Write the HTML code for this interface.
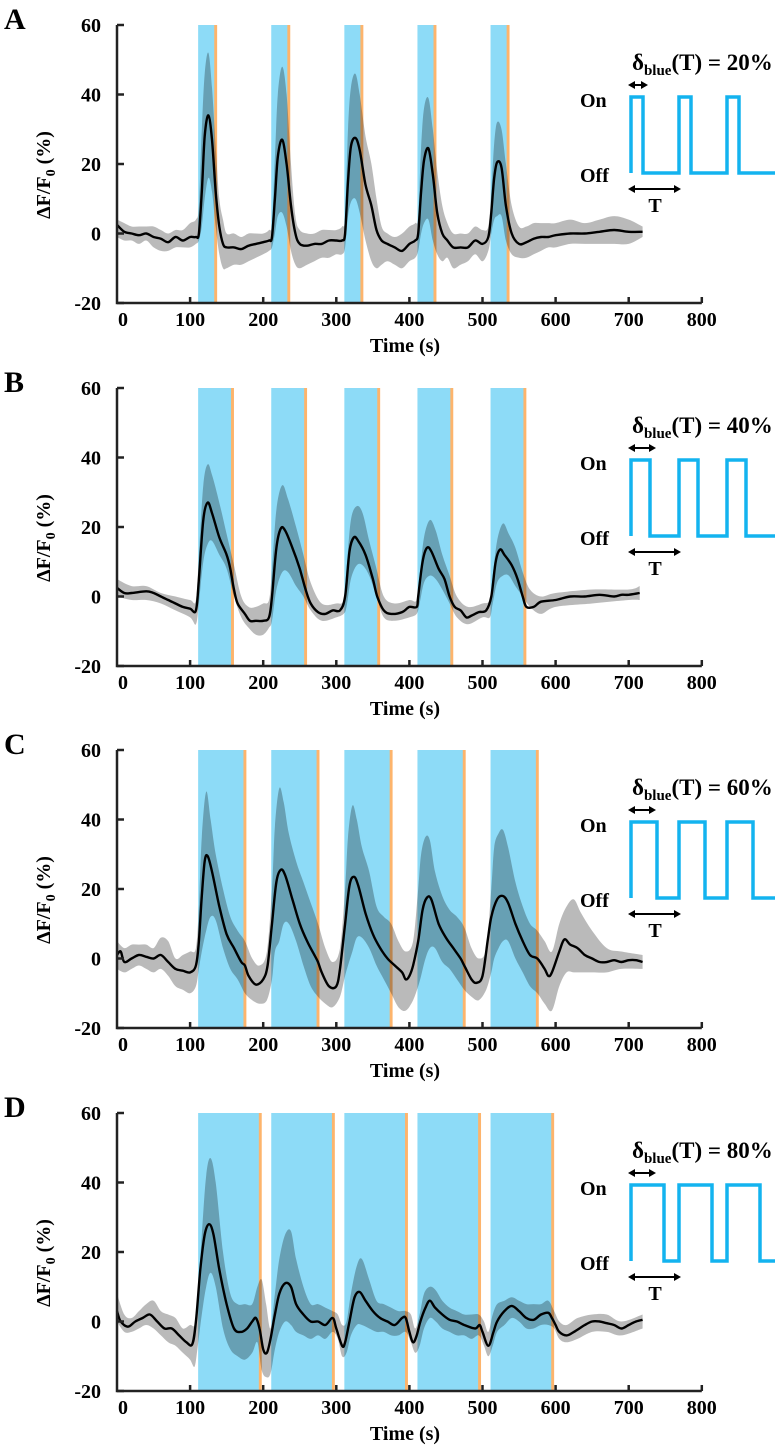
<!DOCTYPE html>
<html><head><meta charset="utf-8"><style>
html,body{margin:0;padding:0;background:#fff;}
svg{display:block;font-family:"Liberation Serif",serif;font-weight:bold;}
</style></head><body>
<svg id="fig" width="784" height="1448" viewBox="0 0 784 1448"></svg>
<script>
// ---------- Panel A data ----------
const tA=[0,10,20,30,40,50,60,70,80,90,100,108,112,116,120,125,130,135,140,145,150,160,170,180,190,200,208,212,216,220,226,232,238,244,250,260,270,280,290,300,308,312,316,320,326,332,340,348,355,362,370,380,390,400,408,412,416,420,426,432,438,445,452,460,470,480,490,500,508,512,516,520,526,532,540,550,560,570,580,590,600,620,640,660,680,700,719];
const meanA=[2.5,0.5,0,-0.5,0,-1,-1.5,-2.5,-1,-2,-1,-1,0,12,28,34,27,12,2,-3,-4,-4,-4.5,-3.5,-3,-2.5,-2,-1,10,22,27,20,8,0,-3,-3.5,-3,-3,-2,-2,-2,0,15,25,27.5,24,14,8,1,-2,-3,-4,-5,-3,-2,0,12,21,24.5,17,6,0,-2,-4,-4,-4,-2,-3,-1,6,16,20.5,19,8,0,-3,-2.5,-1.5,-1,-1,-0.5,0,0,0.5,1,0.5,0.5];
const bandTA=tA;
const upperA=[4,3,2,2,2,2,1,0,1,1,3,4,8,30,46,52,42,25,10,4,0,0,-1,0,0,0,1,3,22,40,48,40,20,5,1,0,0,1,1,1,2,5,30,42,46,40,28,20,10,2,0,-1,0,2,3,5,25,36,39,30,18,8,3,0,0,0,2,1,2,12,26,32,30,20,8,2,2,3,3,3,3,4,3,4,5,4,2];
const lowerA=[-1,-2,-2,-3,-2,-4,-5,-5,-4,-4,-4,-3,-2,2,10,16,12,2,-6,-10,-10,-9,-9,-8,-7,-6,-5,-4,0,5,6,2,-5,-9,-10,-9,-8,-7,-7,-6,-6,-4,5,9,10,6,-2,-8,-10,-9,-8,-9,-10,-8,-7,-5,0,3,4,-2,-6,-8,-7,-10,-9,-8,-6,-8,-5,0,4,5,5,-2,-6,-7,-7,-6,-5,-4,-4,-3,-3,-3,-3,-3,-1];
// ---------- Panel B data ----------
const tB=[0,10,20,40,50,60,70,80,90,100,108,112,118,124,130,140,150,155,160,165,175,182,190,200,208,212,218,224,230,240,250,258,265,275,285,295,305,312,318,324,330,340,350,356,365,375,390,400,410,412,418,424,430,440,448,455,462,470,478,485,495,505,512,518,524,530,540,548,555,560,570,580,600,620,640,660,680,690,700,715];
const meanB=[2.5,1,1,1.5,1,0,-1,-2,-3,-3.5,-4,5,22,27,24,17,12,8,2,-2,-5,-7,-7,-7,-6,0,14,19.5,19,14,8,2,-2,-4.5,-5,-4,-4,0,13,17,16,12,5,0,-4,-5,-4.5,-3,-3,0,10,14,13,8,5,0,-3,-4,-6,-5.5,-4.5,-4,0,10,13.5,12,9,5,0,-3,-3,-1.5,-1,0,0,0.5,0,0.5,0.5,1];
const bandTB=[0,20,40,60,80,100,108,112,118,124,130,140,150,160,170,180,190,200,208,212,218,226,234,245,255,265,280,300,310,314,320,328,336,345,355,365,380,400,410,414,420,428,436,445,455,465,480,500,510,514,520,528,536,545,555,565,580,600,650,700,715];
const upperB=[5,3,3,1,0,-1,-1,12,32,38,35,27,18,9,0,-3,-3,-2,-1,8,25,32,28,20,12,4,-2,-2,-1,8,22,26,24,16,8,0,-2,-1,-1,6,17,22,19,12,6,0,-3,-2,-1,6,16,21,18,14,7,2,0,1,2,2,3];
const lowerB=[0,-1,-1,-2,-4,-6,-8,-2,10,15,16,12,8,0,-6,-9,-11,-11,-9,-7,2,7,7,3,0,-4,-7,-6,-5,-3,5,9,9,6,0,-6,-7,-6,-5,-2,4,6,5,2,-2,-6,-8,-6,-6,-2,4,6,6,3,0,-3,-5,-3,-2,-1,-1];
// ---------- Panel C data ----------
const tC=[0,5,10,20,30,40,50,60,70,80,90,100,108,112,116,120,124,130,140,150,160,170,175,180,190,200,206,212,218,224,230,240,250,260,270,275,280,290,300,305,312,318,324,330,340,350,360,370,380,390,395,400,405,412,418,424,430,440,450,460,470,475,485,492,500,507,512,520,528,535,545,555,565,575,585,590,595,605,612,620,630,640,650,660,670,680,690,700,710,719];
const meanC=[1,2,-1,0,1,0.5,0,1,-1,-3,-3.5,-4,-2,5,18,28,29.5,25,15,7,3,-1,-2,-5,-7.5,-6,-2,10,22,25.5,24,17,10,5,1,-1,-4,-8,-8,-3,10,21,23.5,21,13,7,3,0,-2,-4,-6,-5,-2,5,14,17.5,17,10,6,3,0,-2,-6,-7,-5,5,12,17,18,16,10,5,1,0,-3,-5,-4,2,5.5,4,3,1,0,-1,-1,-0.5,-1,-0.5,-0.5,-1];
const bandTC=[0,10,20,30,40,50,60,70,80,90,100,108,112,116,122,128,135,145,155,165,175,185,195,205,212,216,222,228,235,245,255,265,275,285,295,305,312,316,322,328,335,345,355,365,375,385,395,405,412,416,422,428,435,445,455,465,475,485,495,505,512,516,522,528,535,545,555,565,575,585,595,605,615,625,635,650,670,690,719];
const upperC=[5,3,4,4,4,3,6,5,0,1,2,3,15,35,48,40,30,20,12,8,5,0,-2,2,20,38,49,45,36,28,22,16,10,3,-1,3,20,35,44,40,32,25,15,12,10,5,2,5,20,30,35,34,25,18,14,12,9,3,0,3,20,32,36,37,32,22,15,10,8,5,2,10,15,17,13,8,3,2,1];
const lowerC=[-3,-4,-3,-2,-3,-4,-3,-5,-8,-9,-10,-8,-3,2,8,12,11,3,-3,-6,-10,-12,-13,-12,-6,2,5,10,10,5,-2,-8,-11,-13,-14,-11,-5,-2,2,6,6,3,-2,-6,-10,-14,-15,-12,-8,-5,0,3,3,-1,-3,-6,-9,-11,-12,-9,-4,0,3,5,5,0,-4,-8,-10,-13,-15,-8,-4,-4,-4,-4,-4,-3,-3];
// ---------- Panel D data ----------
const tD=[0,5,15,25,35,45,55,65,75,85,95,103,108,114,120,126,132,140,150,160,170,178,185,190,195,200,205,210,216,222,230,238,245,255,265,275,285,295,300,308,312,318,325,332,340,350,360,370,380,390,395,400,405,410,415,422,428,435,445,455,465,475,490,496,500,508,515,520,530,540,550,560,570,580,590,595,600,605,615,625,640,650,660,670,680,690,700,710,719];
const meanD=[3,0,-1.5,0,1,2,0,-2,-2,-4,-6,-6.5,0,15,25,28,25,15,5,-2,-3,-2,0,1,-2,-8,-9,-5,2,8,11,10,5,2,0,0,-1,1,-2,-7,-6,0,7,8.5,6,3,1,0,-1,1,1,-3,-6,-4,0,4,6,4,2,0.5,0,-1,-2,-1,-3,-7,-3,0,3,4.5,3,1,0.5,2,2.5,1,-1,-3,-4,-3,-1,0,0,-0.5,-1,-2,-1,0,0.5];
const bandTD=[0,10,20,30,40,50,60,70,80,90,100,106,110,116,122,128,135,145,155,165,175,185,192,198,204,210,216,222,230,238,245,255,265,275,285,295,302,308,314,320,328,335,345,355,365,375,385,395,402,408,414,420,428,436,445,455,465,475,485,495,502,508,514,520,530,540,550,560,570,580,590,598,605,615,630,650,670,690,719];
const upperD=[8,2,1,3,5,6,3,2,1,-2,-1,-1,5,25,42,47,40,20,8,5,5,5,10,12,5,-2,8,18,25,26,18,10,5,5,4,3,2,-1,0,8,16,18,12,6,5,4,3,3,2,-2,2,8,10,9,6,4,3,2,2,2,0,-3,2,5,6,7,6,5,5,5,6,3,0,-1,1,2,2,0,2];
const lowerD=[0,-3,-3,-2,-1,-2,-4,-6,-7,-9,-11,-13,-8,2,10,14,10,-2,-8,-10,-11,-9,-6,-14,-16,-15,-8,-3,0,-1,-3,-4,-5,-4,-5,-3,-5,-10,-9,-4,-1,-1,-2,-3,-3,-4,-4,-3,-6,-9,-7,-2,1,0,-2,-3,-4,-4,-5,-4,-7,-10,-7,-3,-1,1,0,-2,-2,-1,-1,-2,-5,-6,-5,-3,-3,-4,-2];
// ---------- stimulation / axes ----------
const stimStarts=[111,211,311,411,511];
const blueDur=[22,45,62,83];
const orangeDur=4;
const dutyLabels=["20%","40%","60%","80%"];
const panelLetters=["A","B","C","D"];
const xTicks=[0,100,200,300,400,500,600,700,800];
const yTicks=[60,40,20,0,-20];

const NS="http://www.w3.org/2000/svg";
const svg=document.getElementById('fig');
function mk(tag,attrs,parent){const e=document.createElementNS(NS,tag);for(const k in attrs)e.setAttribute(k,attrs[k]);(parent||svg).appendChild(e);return e;}
// Catmull-Rom smoothing of a point list into path segments
function smooth(pts,start){
  let d=start?('M'+pts[0][0].toFixed(1)+','+pts[0][1].toFixed(1)):('L'+pts[0][0].toFixed(1)+','+pts[0][1].toFixed(1));
  for(let i=0;i<pts.length-1;i++){
    const p0=pts[Math.max(0,i-1)],p1=pts[i],p2=pts[i+1],p3=pts[Math.min(pts.length-1,i+2)];
    const c1x=p1[0]+(p2[0]-p0[0])/6,c1y=p1[1]+(p2[1]-p0[1])/6;
    const c2x=p2[0]-(p3[0]-p1[0])/6,c2y=p2[1]-(p3[1]-p1[1])/6;
    d+='C'+c1x.toFixed(1)+','+c1y.toFixed(1)+' '+c2x.toFixed(1)+','+c2y.toFixed(1)+' '+p2[0].toFixed(1)+','+p2[1].toFixed(1);
  }
  return d;
}

const panels=[
 {top:25,t:tA,m:meanA,bt:bandTA,u:upperA,l:lowerA,hw:12,aw:20},
 {top:388,t:tB,m:meanB,bt:bandTB,u:upperB,l:lowerB,hw:19,aw:28},
 {top:750,t:tC,m:meanC,bt:bandTC,u:upperC,l:lowerC,hw:26,aw:28},
 {top:1113,t:tD,m:meanD,bt:bandTD,u:upperD,l:lowerD,hw:33,aw:28}
];
const X0=117, XS=0.731, H=278;

panels.forEach((p,i)=>{
  const g=mk('g',{});
  
  
  const xs=t=>X0+t*XS;
  const ys=v=>p.top+(60-v)/80*H;
  const bot=p.top+H;
  const L=mk('text',{x:4,y:p.top+4,'font-size':30},g);
  L.textContent=panelLetters[i];
  
  
  // band
  const up=p.bt.map((t,k)=>[xs(t),ys(p.u[k])]);
  const dn=p.bt.map((t,k)=>[xs(t),ys(p.l[k])]).reverse();
  const band=mk('path',{d:smooth(up,true)+smooth(dn,false)+'Z',fill:'#000','fill-opacity':0.27},g);
  
  
  // mean line
  const mp=p.t.map((t,k)=>[xs(t),ys(p.m[k])]);
  const line=mk('path',{d:smooth(mp,true),fill:'none',stroke:'#000','stroke-width':2.4,'stroke-linejoin':'round'},g);
  
  
  stimStarts.forEach(s=>{
    const b=mk('rect',{x:xs(s),y:p.top,width:blueDur[i]*XS,height:H,fill:'#8ddbf7',style:'mix-blend-mode:multiply'},g);
    
    
    const o=mk('rect',{x:xs(s+blueDur[i]),y:p.top,width:orangeDur*XS,height:H,fill:'#fdb46c',style:'mix-blend-mode:multiply'},g);
    
    
  });
  const ax=mk('path',{d:`M${X0},${p.top} V${bot} H${xs(800)}`,fill:'none',stroke:'#222','stroke-width':2.5},g);
  
  
  yTicks.forEach(v=>{
    mk('line',{x1:X0,x2:X0+7,y1:ys(v),y2:ys(v),stroke:'#222','stroke-width':2.5},g);
    const tx=mk('text',{x:101,y:ys(v)+7,'font-size':20,'text-anchor':'end'},g);
    tx.textContent=v;
    
    
  });
  xTicks.forEach(v=>{
    if(v>0)mk('line',{x1:xs(v),x2:xs(v),y1:bot,y2:bot-6,stroke:'#222','stroke-width':2.5},g);
    const tx=mk('text',{x:v===0?123:xs(v),y:bot+23,'font-size':20,'text-anchor':'middle'},g);
    tx.textContent=v;
    
    
  });
  const xt=mk('text',{x:405,y:bot+49,'font-size':20,'text-anchor':'middle'},g);
  xt.textContent='Time (s)';
  
  
  const yt=mk('text',{x:0,y:0,'font-size':20,'text-anchor':'middle',transform:`translate(50,${p.top+150}) rotate(-90)`},g);
  yt.innerHTML='ΔF/F<tspan font-size="14" dy="5">0</tspan><tspan dy="-5"> (%)</tspan>';
  
  
  const top=p.top+72, lo=p.top+148;
  let sd=`M631,${lo} V${top}`;
  [631,679,727].forEach((s,k)=>{ if(k>0) sd+=` H${s} V${top}`; sd+=` H${s+p.hw} V${lo}`;});
  sd+=' H775';
  const sq=mk('path',{d:sd,fill:'none',stroke:'#13b3ef','stroke-width':3.5},g);
  
  
  const dl=mk('text',{x:632,y:p.top+45,'font-size':23},g);
  dl.innerHTML='δ<tspan font-size="15" dy="5">blue</tspan><tspan dy="-5">(T) = '+dutyLabels[i]+'</tspan>';
  
  
  const on=mk('text',{x:580,y:p.top+82,'font-size':20},g); on.textContent='On';
  
  
  const off=mk('text',{x:580,y:p.top+157,'font-size':20},g); off.textContent='Off';
  
  
  function arrow(x1,x2,y,name){
    const a=mk('g',{},g);
    
    
    mk('line',{x1:x1+4,x2:x2-4,y1:y,y2:y,stroke:'#000','stroke-width':2},a);
    mk('path',{d:`M${x1},${y} l7,-4 v8 Z M${x2},${y} l-7,-4 v8 Z`,fill:'#000'},a);
  }
  arrow(628,628+p.aw,p.top+60,'on-duration-arrow');
  arrow(628,681,p.top+164,'period-arrow');
  const T=mk('text',{x:655,y:p.top+187,'font-size':20,'text-anchor':'middle'},g); T.textContent='T';
  
  
});
</script>
</body></html>
